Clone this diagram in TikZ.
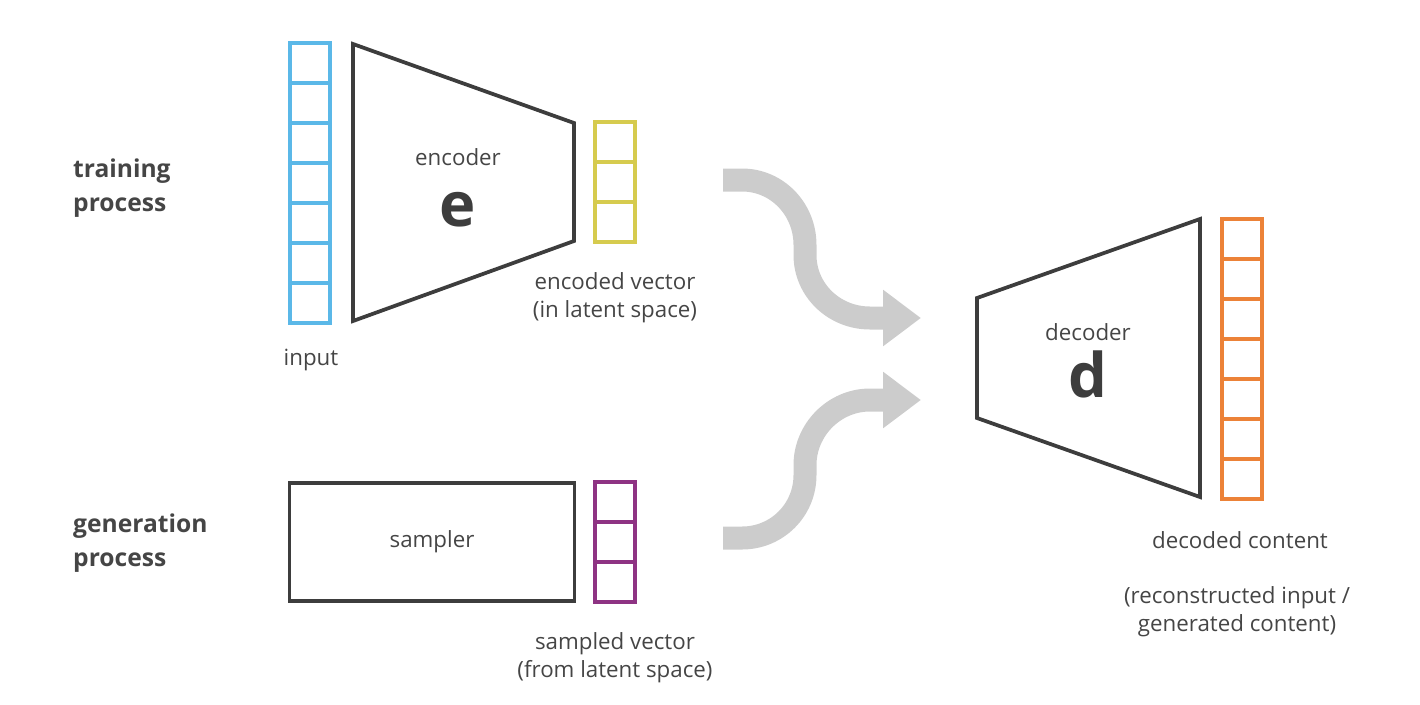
\documentclass[tikz,border=0pt]{standalone}
\usepackage{fontspec}
\setmainfont{Open Sans}
\usetikzlibrary{positioning, arrows.meta}
\definecolor{inblue}{HTML}{5BB8E8}
\definecolor{latyellow}{HTML}{D6CB4E}
\definecolor{sampurple}{HTML}{8E3383}
\definecolor{outorange}{HTML}{EC8238}
\definecolor{boxgray}{HTML}{3D3D3D}
\definecolor{textgray}{HTML}{454545}
\definecolor{flowgray}{HTML}{CCCCCC}

\begin{document}
\begin{tikzpicture}[x=0.02cm, y=-0.02cm,
    cell/.style={draw, line width=0.07cm, minimum width=0.8cm, minimum height=0.8cm, inner sep=0pt, outer sep=0pt},
    block/.style={draw=boxgray, line width=0.075cm, line join=miter},
    txt/.style={text=textgray, font=\fontsize{12.7}{16}\selectfont, align=center},
    heading/.style={text=textgray, font=\fontsize{14}{19}\selectfont\bfseries, align=left, anchor=west},
    letter/.style={text=boxgray, font=\fontsize{35}{35}\selectfont\bfseries, inner sep=0pt},
    flow/.style={draw=flowgray, line width=0.46cm, -{Triangle[width=1.08cm, length=0.76cm]}}]
    \useasboundingbox (0,0) rectangle (1420,704);

    % Row titles
    \node[heading] (train) at (67,188) {training\\process};
    \node[heading] (gen) at (67,543) {generation\\process};

    % Input vector
    \node[cell, draw=inblue] (in1) at (310,63) {};
    \node[cell, draw=inblue] (in2) [below=0pt of in1] {};
    \node[cell, draw=inblue] (in3) [below=0pt of in2] {};
    \node[cell, draw=inblue] (in4) [below=0pt of in3] {};
    \node[cell, draw=inblue] (in5) [below=0pt of in4] {};
    \node[cell, draw=inblue] (in6) [below=0pt of in5] {};
    \node[cell, draw=inblue] (in7) [below=0pt of in6] {};
    \node[txt] (inlab) at (311,360) {input};

    % Encoder
    \draw[block] (353,44) -- (574,123) -- (574,241) -- (353,321) -- cycle;
    \node[txt] (enc) at (458,157) {encoder};
    \node[letter] (e) at (458,210) {e};

    % Encoded vector
    \node[cell, draw=latyellow] (lat1) at (615,142) {};
    \node[cell, draw=latyellow] (lat2) [below=0pt of lat1] {};
    \node[cell, draw=latyellow] (lat3) [below=0pt of lat2] {};
    \node[txt] (latlab) at (615,298) {encoded vector\\(in latent space)};

    % Sampler
    \node[block, minimum width=5.7cm, minimum height=2.36cm, txt] (sampler) at (432,542) {sampler};
    \node[cell, draw=sampurple] (smp1) at (615,502) {};
    \node[cell, draw=sampurple] (smp2) [below=0pt of smp1] {};
    \node[cell, draw=sampurple] (smp3) [below=0pt of smp2] {};
    \node[txt] (smplab) at (615,658) {sampled vector\\(from latent space)};

    % Flows into the decoder
    \coordinate (upstart) at (723,180);
    \coordinate (upend) at (921,318);
    \coordinate (lowstart) at (723,538);
    \coordinate (lowend) at (921,400);
    \draw[flow] (upstart) -- (742,180) .. controls (777,180) and (805,209) .. (805,245)
        -- (805,255) .. controls (805,290) and (834,318) .. (870,318) -- (upend);
    \draw[flow] (lowstart) -- (742,538) .. controls (777,538) and (805,510) .. (805,475)
        -- (805,465) .. controls (805,430) and (834,400) .. (870,400) -- (lowend);

    % Decoder
    \draw[block] (977,298) -- (1200,219) -- (1200,497) -- (977,418) -- cycle;
    \node[txt] (dec) at (1088,332) {decoder};
    \node[letter] (d) at (1088,374) {d};

    % Decoded vector
    \node[cell, draw=outorange] (out1) at (1242,239) {};
    \node[cell, draw=outorange] (out2) [below=0pt of out1] {};
    \node[cell, draw=outorange] (out3) [below=0pt of out2] {};
    \node[cell, draw=outorange] (out4) [below=0pt of out3] {};
    \node[cell, draw=outorange] (out5) [below=0pt of out4] {};
    \node[cell, draw=outorange] (out6) [below=0pt of out5] {};
    \node[cell, draw=outorange] (out7) [below=0pt of out6] {};
    \node[txt] (outlab) at (1240,540) {decoded content};
    \node[txt] (outnote) at (1237,612) {(reconstructed input /\\generated content)};
\end{tikzpicture}
\end{document}
